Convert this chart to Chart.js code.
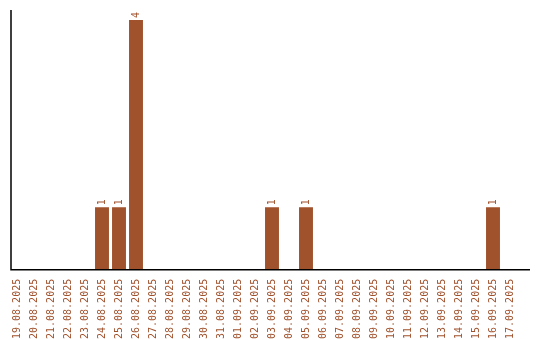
<!DOCTYPE html>
<html>
<head>
<meta charset="utf-8">
<script src="https://cdn.jsdelivr.net/npm/chart.js@4"></script>
<style>
  html, body { margin: 0; padding: 0; background: #fff; }
  #wrap { width: 540px; height: 340px; }
</style>
</head>
<body>
<div id="wrap"><canvas id="chart" width="540" height="340"></canvas></div>
<script>
// Data
var dates = [
  '19.08.2025', '20.08.2025', '21.08.2025', '22.08.2025', '23.08.2025', '24.08.2025',
  '25.08.2025', '26.08.2025', '27.08.2025', '28.08.2025', '29.08.2025', '30.08.2025',
  '31.08.2025', '01.09.2025', '02.09.2025', '03.09.2025', '04.09.2025', '05.09.2025',
  '06.09.2025', '07.09.2025', '08.09.2025', '09.09.2025', '10.09.2025', '11.09.2025',
  '12.09.2025', '13.09.2025', '14.09.2025', '15.09.2025', '16.09.2025', '17.09.2025'
];
var counts = [0, 0, 0, 0, 0, 1, 1, 4, 0, 0, 0, 0, 0, 0, 0, 1, 0, 1, 0, 0, 0, 0, 0, 0, 0, 0, 0, 0, 1, 0];

var brown = '#a0522d';
var monoFont = '"DejaVu Sans Mono", monospace';

// axis lines + value labels on top of bars
var extras = {
  id: 'extras',
  afterDatasetsDraw: function (chart) {
    var ctx = chart.ctx;
    var yScale = chart.scales.y;
    var base = yScale.getPixelForValue(0);
    ctx.save();
    ctx.strokeStyle = '#000';
    ctx.lineWidth = 1.5;
    ctx.beginPath();
    ctx.moveTo(11, 10);
    ctx.lineTo(11, base);
    ctx.lineTo(530, base);
    ctx.stroke();

    ctx.fillStyle = brown;
    ctx.font = '10px ' + monoFont;
    ctx.textAlign = 'left';
    ctx.textBaseline = 'middle';
    chart.getDatasetMeta(0).data.forEach(function (bar, i) {
      if (!counts[i]) return;
      ctx.save();
      ctx.translate(bar.x, bar.y - 2);
      ctx.rotate(-Math.PI / 2);
      ctx.fillText(String(counts[i]), 0, 0);
      ctx.restore();
    });
    ctx.restore();
  }
};

var ctx = document.getElementById('chart').getContext('2d');
var chart = new Chart(ctx, {
  type: 'bar',
  data: {
    labels: dates,
    datasets: [{
      data: counts,
      backgroundColor: brown,
      borderWidth: 0,
      barPercentage: 0.82,
      categoryPercentage: 1
    }]
  },
  options: {
    responsive: false,
    animation: false,
    layout: { padding: { left: 8.5, right: 21.5, top: 10, bottom: 0 } },
    plugins: {
      legend: { display: false },
      tooltip: { enabled: false }
    },
    scales: {
      x: {
        offset: true,
        grid: { display: false },
        border: { display: false },
        ticks: {
          color: brown,
          font: { family: monoFont, size: 10 },
          minRotation: 90,
          maxRotation: 90,
          autoSkip: false,
          padding: 1
        }
      },
      y: {
        display: false,
        min: 0,
        max: 4.16
      }
    }
  },
  plugins: [extras]
});
</script>
</body>
</html>
